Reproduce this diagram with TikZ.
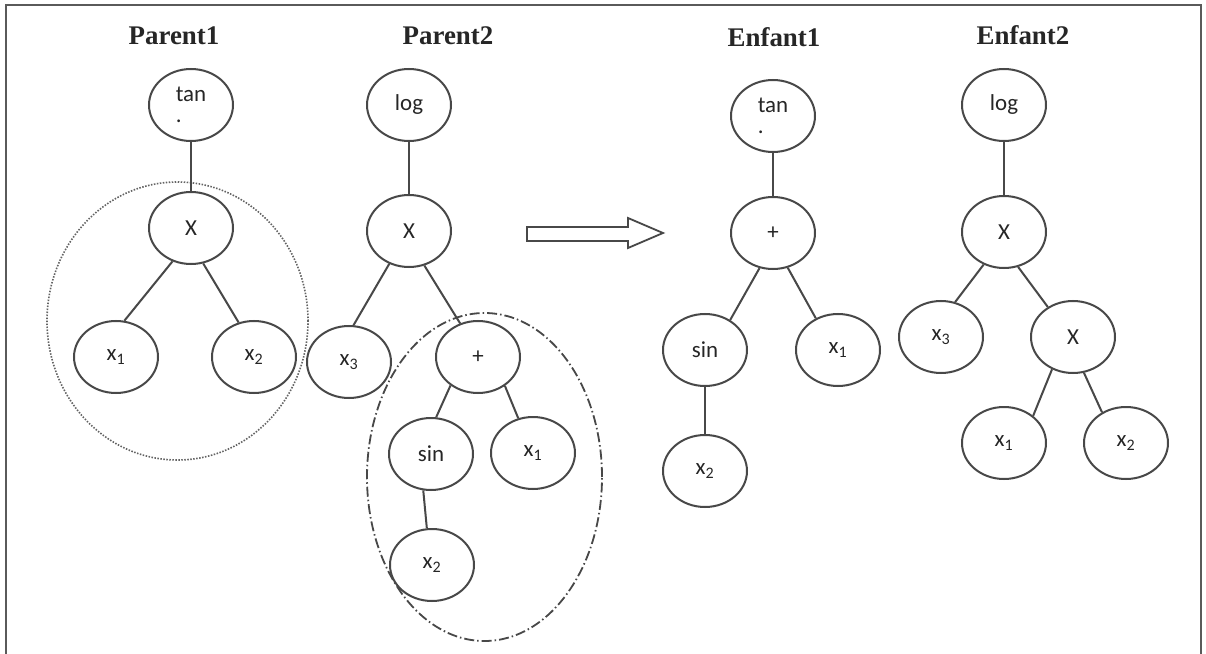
\documentclass[tikz,border=0pt]{standalone}
\usepackage{fontspec}
\setmainfont{Liberation Serif}
\newfontfamily\lblfont{Carlito}
\usetikzlibrary{shapes.geometric}
\definecolor{linegray}{HTML}{484848}
\definecolor{framegray}{HTML}{5A5A5A}
\definecolor{txtcol}{HTML}{262626}
\begin{document}
\begin{tikzpicture}[x=1bp,y=-1bp,
  tnode/.style={ellipse,draw=linegray,line width=2bp,minimum width=84bp,minimum height=72bp,
    inner sep=0pt,align=left,font=\lblfont\fontsize{23}{24}\selectfont,text=txtcol},
  edge/.style={draw=linegray,line width=2bp},
  ttl/.style={anchor=base,font=\bfseries\fontsize{27}{30}\selectfont,text=txtcol},
  dotsel/.style={ellipse,draw=linegray!85,line width=1.6bp,dash pattern=on 1.5bp off 1.5bp,inner sep=0pt},
  dashsel/.style={ellipse,draw=linegray,line width=1.8bp,dash pattern=on 10bp off 3bp on 1.5bp off 3bp,inner sep=0pt},
  blockarrow/.style={draw=linegray,line width=1.8bp,line join=miter}]
\clip (0,0) rectangle (1206,654);
\fill[white] (0,0) rectangle (1206,654);
\draw[framegray,line width=2.2bp] (6,660) -- (6,5) -- (1201,5) -- (1201,660);

% titles
\node[ttl] (t1) at (174,45) {Parent1};
\node[ttl] (t2) at (448,45) {Parent2};
\node[ttl] (t3) at (774,46.5) {Enfant1};
\node[ttl] (t4) at (1023,45) {Enfant2};

% selections
\node[dotsel,minimum width=261bp,minimum height=278bp] (sel1) at (177.5,321) {};
\node[dashsel,minimum width=235bp,minimum height=328bp] (sel2) at (484.5,477) {};

% Parent1
\node[tnode] (a1) at (191,105) {tan\\[-3pt].};
\node[tnode] (a2) at (191,228) {X};
\node[tnode] (a3) at (116,357) {x\textsubscript{1}};
\node[tnode] (a4) at (254,357) {x\textsubscript{2}};
\draw[edge] (a1) -- (a2);
\draw[edge] (a2.-119) -- (a3.77);
\draw[edge] (a2.-71) -- (a4.114);

% Parent2
\node[tnode] (b1) at (409,105) {log};
\node[tnode] (b2) at (409,231) {X};
\node[tnode] (b3) at (349,362) {x\textsubscript{3}};
\node[tnode] (b4) at (478,357) {+};
\node[tnode] (b5) at (431,454) {sin};
\node[tnode] (b6) at (533,453) {x\textsubscript{1}};
\node[tnode] (b7) at (432,565) {x\textsubscript{2}};
\draw[edge] (b1) -- (b2);
\draw[edge] (b2.-121) -- (b3.83);
\draw[edge] (b2.-66) -- (b4.118);
\draw[edge] (b4.-134) -- (b5.82);
\draw[edge] (b4.-47) -- (b6.113);
\draw[edge] (b5.-102) -- (b7.98);

% arrow
\draw[blockarrow] (527,227) -- (628,227) -- (628,218) -- (663,233) -- (628,248) -- (628,241) -- (527,241) -- cycle;

% Enfant1
\node[tnode] (c1) at (773,116) {tan\\[-3pt].};
\node[tnode] (c2) at (773,233) {+};
\node[tnode] (c3) at (705,350) {sin};
\node[tnode] (c4) at (838,350) {x\textsubscript{1}};
\node[tnode] (c5) at (705,471) {x\textsubscript{2}};
\draw[edge] (c1) -- (c2);
\draw[edge] (c2.-111) -- (c3.50);
\draw[edge] (c2.-67) -- (c4.125);
\draw[edge] (c3) -- (c5);

% Enfant2
\node[tnode] (d1) at (1004,105) {log};
\node[tnode] (d2) at (1004,232) {X};
\node[tnode] (d3) at (941,337) {x\textsubscript{3}};
\node[tnode] (d4) at (1073,337) {X};
\node[tnode] (d5) at (1004,443) {x\textsubscript{1}};
\node[tnode] (d6) at (1126,443) {x\textsubscript{2}};
\draw[edge] (d1) -- (d2);
\draw[edge] (d2.-122) -- (d3.68);
\draw[edge] (d2.-68) -- (d4.130);
\draw[edge] (d4.-123) -- (d5.43);
\draw[edge] (d4.-73) -- (d6.128);
\end{tikzpicture}
\end{document}
